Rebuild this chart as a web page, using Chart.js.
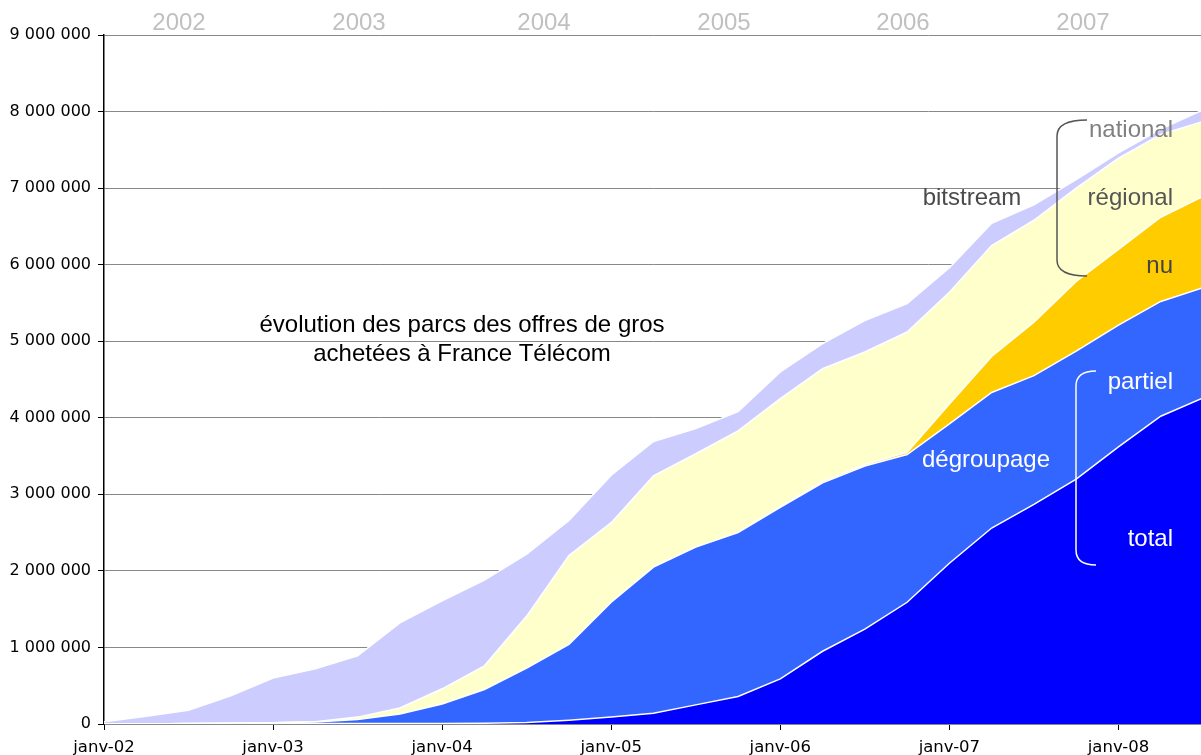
<!DOCTYPE html>
<html>
<head>
<meta charset="utf-8">
<script src="https://cdn.jsdelivr.net/npm/chart.js@4/dist/chart.umd.min.js"></script>
<style>
  html, body { margin: 0; padding: 0; background: #fff; overflow: hidden; }
  canvas { display: block; }
</style>
</head>
<body>
<canvas id="chart" width="1203" height="755"></canvas>
<script>
// quarters, janv-02 .. juil-08
const quarters = [
  'janv-02', 'avr-02', 'juil-02', 'oct-02',
  'janv-03', 'avr-03', 'juil-03', 'oct-03',
  'janv-04', 'avr-04', 'juil-04', 'oct-04',
  'janv-05', 'avr-05', 'juil-05', 'oct-05',
  'janv-06', 'avr-06', 'juil-06', 'oct-06',
  'janv-07', 'avr-07', 'juil-07', 'oct-07',
  'janv-08', 'avr-08', 'juil-08'
];

// parcs, in millions of lines
const degroupageTotal = [
  0, 0, 0, 0, 0.005, 0.005, 0.005, 0.005, 0.005, 0.01, 0.02, 0.05, 0.09, 0.14,
  0.25, 0.36, 0.59, 0.95, 1.24, 1.59, 2.10, 2.56, 2.87, 3.20, 3.62, 4.02, 4.26
];
const degroupagePartiel = [
  0, 0, 0.005, 0.01, 0.01, 0.02, 0.055, 0.125, 0.255, 0.44, 0.71, 0.99, 1.50, 1.91,
  2.06, 2.14, 2.24, 2.20, 2.13, 1.93, 1.82, 1.77, 1.68, 1.67, 1.59, 1.50, 1.44
];
const degroupageNu = [
  0, 0, 0, 0, 0, 0, 0, 0, 0, 0, 0, 0, 0, 0,
  0, 0, 0.01, 0.02, 0.02, 0.03, 0.26, 0.47, 0.70, 0.91, 0.99, 1.10, 1.19
];
const bitstreamRegional = [
  0, 0, 0, 0, 0, 0.005, 0.03, 0.08, 0.20, 0.31, 0.68, 1.16, 1.04, 1.19,
  1.22, 1.33, 1.41, 1.47, 1.47, 1.57, 1.46, 1.45, 1.33, 1.22, 1.19, 1.08, 0.98
];
const bitstreamNational = [
  0.03, 0.10, 0.175, 0.36, 0.585, 0.69, 0.80, 1.11, 1.15, 1.12, 0.81, 0.46, 0.62, 0.45,
  0.33, 0.25, 0.35, 0.33, 0.41, 0.37, 0.32, 0.29, 0.20, 0.11, 0.07, 0.07, 0.15
];

const years = ['2002', '2003', '2004', '2005', '2006', '2007'];

const M = (arr) => arr.map((v) => Math.round(v * 1e6));
const fmt = (v) => String(v).replace(/\B(?=(\d{3})+(?!\d))/g, ' ');

function area(label, values, color, fill) {
  return {
    label,
    data: M(values),
    backgroundColor: color,
    borderColor: '#ffffff',
    borderWidth: 1.5,
    pointRadius: 0,
    tension: 0,
    fill,
  };
}

// texts and braces drawn over the plot
const annotations = {
  id: 'annotations',
  afterDraw(chart) {
    const ctx = chart.ctx;
    ctx.save();
    ctx.textBaseline = 'alphabetic';

    ctx.font = '24px "Liberation Sans", Arial, sans-serif';
    ctx.fillStyle = '#c0c0c0';
    ctx.textAlign = 'center';
    const yearX = [179, 359, 544, 724, 903, 1083];
    years.forEach((y, i) => ctx.fillText(y, yearX[i], 30));

    ctx.fillStyle = '#000';
    ctx.fillText('évolution des parcs des offres de gros', 462, 332);
    ctx.fillText('achetées à France Télécom', 462, 361);

    ctx.fillStyle = '#4a4a4a';
    ctx.fillText('bitstream', 972, 205);

    ctx.textAlign = 'right';
    ctx.fillStyle = '#808080';
    ctx.fillText('national', 1173, 137);
    ctx.fillStyle = '#555555';
    ctx.fillText('régional', 1173, 205);
    ctx.fillStyle = '#444444';
    ctx.fillText('nu', 1173, 273);
    ctx.fillStyle = '#ffffff';
    ctx.fillText('partiel', 1173, 389);
    ctx.fillText('total', 1173, 546);
    ctx.textAlign = 'center';
    ctx.fillText('dégroupage', 986, 467);

    // braces
    ctx.lineWidth = 1.5;
    ctx.strokeStyle = '#555555';
    ctx.beginPath();
    ctx.moveTo(1087, 120);
    ctx.quadraticCurveTo(1057, 120, 1057, 136);
    ctx.lineTo(1057, 260);
    ctx.quadraticCurveTo(1057, 276, 1087, 276);
    ctx.stroke();

    ctx.strokeStyle = '#ffffff';
    ctx.beginPath();
    ctx.moveTo(1096, 371);
    ctx.quadraticCurveTo(1076, 371, 1076, 386);
    ctx.lineTo(1076, 550);
    ctx.quadraticCurveTo(1076, 565, 1096, 565);
    ctx.stroke();
    ctx.restore();
  },
};

const data = {
  labels: quarters,
  datasets: [
    area('dégroupage total', degroupageTotal, '#0000ff', 'origin'),
    area('dégroupage partiel', degroupagePartiel, '#3366ff', '-1'),
    area('dégroupage nu', degroupageNu, '#ffcc00', '-1'),
    area('bitstream régional', bitstreamRegional, '#ffffcc', '-1'),
    area('bitstream national', bitstreamNational, '#ccccff', '-1'),
  ],
};

const config = {
  type: 'line',
  data,
  options: {
    responsive: false,
    animation: false,
    layout: { padding: { top: 35, right: 0, bottom: 0, left: 0 } },
    plugins: {
      legend: { display: false },
      tooltip: { enabled: false },
    },
    scales: {
      x: {
        offset: false,
        border: { color: '#888888', width: 2 },
        grid: { drawOnChartArea: false, tickLength: 6, color: '#000000' },
        ticks: {
          autoSkip: false,
          maxRotation: 0,
          padding: 8,
          color: '#000',
          font: { family: '"DejaVu Sans", Verdana, sans-serif', size: 16.5 },
          callback(value) {
            const l = this.getLabelForValue(value);
            return l.startsWith('janv') ? l : null;
          },
        },
        afterFit(scale) { scale.height = 31; },
      },
      y: {
        stacked: true,
        min: 0,
        max: 9000000,
        border: { color: '#000000', width: 1.5 },
        grid: { color: '#888888', lineWidth: 1, tickLength: 6, tickColor: '#000000' },
        ticks: {
          stepSize: 1000000,
          padding: 7,
          color: '#000',
          font: { family: '"DejaVu Sans", Verdana, sans-serif', size: 16 },
          callback: (v) => fmt(v),
        },
        afterFit(scale) { scale.width = 104; },
      },
    },
  },
  plugins: [annotations],
};

new Chart(document.getElementById('chart').getContext('2d'), config);
</script>
</body>
</html>
